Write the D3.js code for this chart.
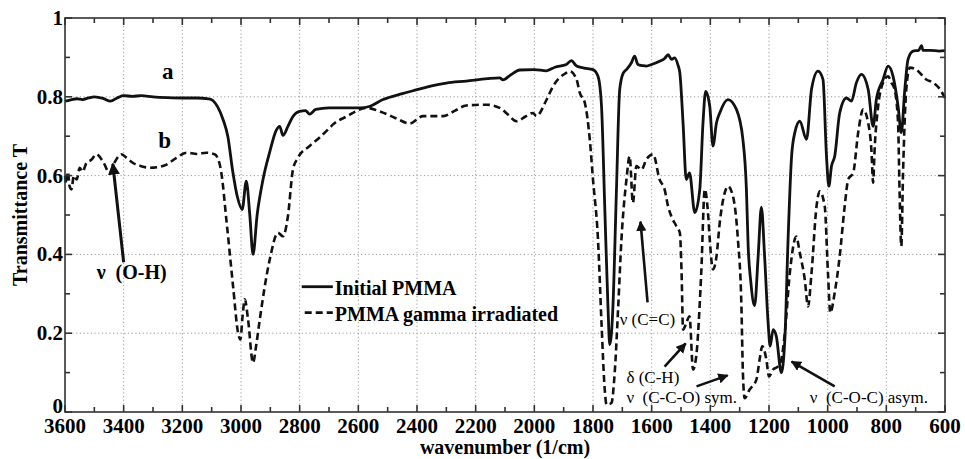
<!DOCTYPE html>
<html>
<head>
<meta charset="utf-8">
<script src="https://cdn.jsdelivr.net/npm/d3@7"></script>
<style>
  body { margin: 0; background: #fff; }
  svg { display: block; font-family: "Liberation Serif", "Times New Roman", serif; }
</style>
</head>
<body>
<svg id="chart" width="965" height="459"></svg>
<script>
// spectrum a : initial PMMA (wavenumber, transmittance)
const waveA = [3600,3580,3560,3540,3520,3500,3470,3445,3420,3400,3370,3340,3300,3250,3200,3150,3110,3095,3080,3060,3045,3028,3012,2996,2982,2970,2959,2945,2925,2902,2880,2868,2857,2840,2823,2800,2780,2766,2745,2700,2650,2595,2560,2516,2450,2400,2350,2300,2232,2160,2118,2107,2080,2050,2000,1959,1930,1891,1874,1856,1830,1800,1783,1771,1760,1749,1743,1737,1732,1720,1709,1697,1686,1670,1658,1647,1630,1618,1600,1573,1555,1544,1532,1522,1510,1504,1493,1482,1471,1453,1436,1425,1416,1402,1391,1379,1368,1340,1311,1289,1277,1271,1262,1249,1237,1226,1215,1203,1196,1186,1175,1158,1146,1135,1123,1112,1095,1072,1055,1033,1016,1004,996,987,976,959,936,919,902,885,862,845,834,811,794,777,760,749,737,726,709,690,680,675,650,620,600];
const transA = [0.789,0.792,0.795,0.793,0.797,0.800,0.796,0.789,0.798,0.803,0.801,0.803,0.800,0.798,0.797,0.797,0.795,0.790,0.775,0.740,0.700,0.610,0.545,0.514,0.586,0.500,0.400,0.500,0.590,0.660,0.715,0.725,0.702,0.725,0.750,0.763,0.765,0.756,0.768,0.772,0.772,0.772,0.776,0.793,0.808,0.818,0.828,0.835,0.840,0.846,0.848,0.843,0.856,0.868,0.869,0.866,0.875,0.882,0.892,0.878,0.873,0.869,0.852,0.776,0.522,0.268,0.171,0.200,0.268,0.565,0.818,0.860,0.869,0.885,0.903,0.882,0.879,0.878,0.882,0.890,0.898,0.907,0.895,0.899,0.880,0.861,0.734,0.590,0.607,0.506,0.565,0.734,0.814,0.776,0.675,0.734,0.759,0.793,0.768,0.692,0.565,0.420,0.330,0.270,0.395,0.520,0.395,0.226,0.167,0.209,0.192,0.100,0.184,0.438,0.649,0.709,0.738,0.692,0.819,0.865,0.844,0.649,0.573,0.624,0.649,0.759,0.797,0.789,0.836,0.857,0.819,0.725,0.793,0.844,0.878,0.852,0.776,0.709,0.819,0.895,0.916,0.918,0.930,0.918,0.918,0.916,0.917];

// spectrum b : PMMA gamma irradiated
const waveB = [3600,3595,3590,3585,3578,3570,3560,3550,3540,3527,3510,3493,3470,3448,3430,3408,3390,3368,3340,3311,3280,3254,3220,3186,3150,3118,3090,3073,3067,3050,3027,3010,3002,2995,2987,2976,2959,2948,2936,2902,2874,2857,2840,2823,2806,2766,2730,2698,2686,2640,2572,2527,2470,2425,2379,2311,2270,2232,2164,2118,2090,2061,2030,2005,1993,1960,1936,1891,1879,1856,1845,1828,1811,1800,1783,1771,1760,1754,1745,1737,1726,1714,1703,1686,1675,1664,1652,1635,1618,1595,1573,1556,1544,1533,1516,1504,1498,1493,1482,1471,1459,1448,1431,1419,1408,1402,1391,1379,1368,1351,1340,1323,1306,1294,1289,1283,1266,1243,1232,1223,1209,1200,1186,1169,1158,1146,1129,1107,1095,1078,1067,1055,1038,1027,1010,999,991,976,959,942,930,913,896,879,862,851,845,840,828,811,794,783,772,760,755,749,743,732,720,698,664,641,617,600];
const transB = [0.600,0.580,0.610,0.575,0.565,0.600,0.590,0.620,0.610,0.632,0.640,0.654,0.635,0.607,0.635,0.654,0.645,0.632,0.624,0.620,0.622,0.628,0.645,0.658,0.655,0.658,0.654,0.630,0.607,0.489,0.319,0.201,0.184,0.240,0.286,0.235,0.125,0.170,0.235,0.387,0.455,0.446,0.497,0.615,0.645,0.675,0.698,0.721,0.730,0.750,0.772,0.763,0.745,0.732,0.751,0.751,0.765,0.778,0.780,0.772,0.755,0.738,0.750,0.759,0.751,0.790,0.827,0.861,0.865,0.844,0.810,0.785,0.692,0.590,0.438,0.226,0.057,0.019,0.020,0.023,0.100,0.268,0.438,0.590,0.649,0.531,0.624,0.615,0.641,0.654,0.590,0.565,0.522,0.497,0.472,0.455,0.353,0.209,0.226,0.243,0.108,0.142,0.353,0.565,0.506,0.438,0.362,0.395,0.480,0.556,0.573,0.548,0.438,0.268,0.100,0.035,0.057,0.082,0.133,0.167,0.133,0.090,0.108,0.116,0.133,0.201,0.353,0.445,0.404,0.336,0.268,0.353,0.522,0.560,0.522,0.353,0.252,0.303,0.395,0.522,0.590,0.607,0.709,0.768,0.734,0.666,0.582,0.666,0.776,0.836,0.852,0.836,0.819,0.734,0.565,0.421,0.607,0.819,0.874,0.869,0.844,0.836,0.819,0.797];

const xTicks = [3600,3400,3200,3000,2800,2600,2400,2200,2000,1800,1600,1400,1200,1000,800,600];
const yTicks = [0,0.2,0.4,0.6,0.8,1];
const yTickLabels = ['0','0.2','0.4','0.6','0.8','1'];
const seriesNames = ['Initial PMMA', 'PMMA gamma irradiated'];

// band labels: [wavenumber, T] of the text, and arrow from -> to
const bands = [
  { text: 'ν  (O-H)', at: [3492, 0.354], from: [3400, 0.380], to: [3437, 0.630], bold: true },
  { text: 'ν (C=C)', at: [1709, 0.235], from: [1614, 0.278], to: [1638, 0.483] },
  { text: 'δ (C-H)', at: [1686, 0.090], from: [1556, 0.115], to: [1484, 0.174] },
  { text: 'ν  (C-C-O) sym.', at: [1686, 0.037], from: [1447, 0.065], to: [1341, 0.093] },
  { text: 'ν  (C-O-C) asym.', at: [1061, 0.037], from: [976, 0.065], to: [1123, 0.128] }
];

const margin = { top: 18, right: 20, bottom: 47, left: 65 };
const width = 965, height = 459;
const svg = d3.select('#chart');

const x = d3.scaleLinear().domain([3600, 600]).range([margin.left, width - margin.right]);
const y = d3.scaleLinear().domain([0, 1]).range([height - margin.bottom, margin.top]);

// dotted grid
const grid = svg.append('g').attr('stroke', '#9a9a9a').attr('stroke-width', 1).attr('stroke-dasharray', '1.2,2.5');
grid.selectAll('.gx').data(xTicks.slice(1, -1)).enter().append('line')
  .attr('x1', d => x(d)).attr('x2', d => x(d)).attr('y1', y(0)).attr('y2', y(1));
grid.selectAll('.gy').data(yTicks.slice(1, -1)).enter().append('line')
  .attr('x1', x(3600)).attr('x2', x(600)).attr('y1', d => y(d)).attr('y2', d => y(d));

// curves
const line = d3.line().x(d => x(d[0])).y(d => y(d[1])).curve(d3.curveMonotoneX);
svg.append('path').datum(d3.zip(waveA, transA)).attr('d', line)
  .attr('fill', 'none').attr('stroke', '#111').attr('stroke-width', 2.8).attr('stroke-linejoin', 'round');
svg.append('path').datum(d3.zip(waveB, transB)).attr('d', line)
  .attr('fill', 'none').attr('stroke', '#111').attr('stroke-width', 2.6).attr('stroke-dasharray', '7,4');

// axes with inward ticks on all four sides
const minorX = d3.range(3600, 599, -100);
const minorY = d3.range(0, 1.001, 0.1);
function axisBox(g) {
  g.append('rect').attr('x', x(3600)).attr('y', y(1)).attr('width', x(600) - x(3600)).attr('height', y(0) - y(1))
    .attr('fill', 'none').attr('stroke', '#333').attr('stroke-width', 1.6);
  minorX.forEach(v => {
    const len = v % 200 === 0 ? 7 : 5;
    g.append('line').attr('x1', x(v)).attr('x2', x(v)).attr('y1', y(0)).attr('y2', y(0) - len);
    g.append('line').attr('x1', x(v)).attr('x2', x(v)).attr('y1', y(1)).attr('y2', y(1) + len);
  });
  minorY.forEach(v => {
    const len = Math.round(v * 10) % 2 === 0 ? 7 : 5;
    g.append('line').attr('x1', x(3600)).attr('x2', x(3600) + len).attr('y1', y(v)).attr('y2', y(v));
    g.append('line').attr('x1', x(600)).attr('x2', x(600) - len).attr('y1', y(v)).attr('y2', y(v));
  });
}
svg.append('g').attr('stroke', '#333').attr('stroke-width', 1.6).call(axisBox);

// tick labels
svg.append('g').selectAll('text').data(xTicks).enter().append('text')
  .attr('x', d => x(d)).attr('y', y(0) + 21).attr('text-anchor', 'middle')
  .attr('font-size', 21).attr('font-weight', 'bold').text(d => d);
svg.append('g').selectAll('text').data(yTicks).enter().append('text')
  .attr('x', x(3600) - 2).attr('y', d => y(d) + (d === 0 ? 1 : 7)).attr('text-anchor', 'end')
  .attr('font-size', 21).attr('font-weight', 'bold').text((d, i) => yTickLabels[i]);

// axis titles
svg.append('text').attr('x', (x(3600) + x(600)) / 2).attr('y', 454)
  .attr('text-anchor', 'middle').attr('font-size', 20).attr('font-weight', 'bold')
  .text('wavenumber (1/cm)');
svg.append('text').attr('transform', `translate(27,${(y(0) + y(1)) / 2}) rotate(-90)`)
  .attr('text-anchor', 'middle').attr('font-size', 20).attr('font-weight', 'bold')
  .text('Transmittance T');

// curve letters
svg.append('text').attr('x', x(3250)).attr('y', y(0.864) + 7).attr('text-anchor', 'middle')
  .attr('font-size', 23).attr('font-weight', 'bold').text('a');
svg.append('text').attr('x', x(3260)).attr('y', y(0.687) + 7).attr('text-anchor', 'middle')
  .attr('font-size', 23).attr('font-weight', 'bold').text('b');

// legend
const lg = svg.append('g');
[0, 1].forEach(i => {
  const ly = y(0.318) + i * 26;
  lg.append('line').attr('x1', x(2793) + i * 3).attr('x2', x(2687)).attr('y1', ly).attr('y2', ly)
    .attr('stroke', '#111').attr('stroke-width', 2.8).attr('stroke-dasharray', i ? '7,4' : null);
  lg.append('text').attr('x', x(2687) + 2).attr('y', ly + 8).attr('font-size', 20).attr('font-weight', 'bold')
    .text(seriesNames[i]);
});

// arrows
svg.append('defs').append('marker').attr('id', 'head').attr('viewBox', '0 0 10 10')
  .attr('refX', 9).attr('refY', 5).attr('markerWidth', 4).attr('markerHeight', 4)
  .attr('markerUnits', 'strokeWidth').attr('orient', 'auto')
  .append('path').attr('d', 'M0,0 L10,5 L0,10 Z').attr('fill', '#111');

bands.forEach(b => {
  svg.append('line').attr('x1', x(b.from[0])).attr('y1', y(b.from[1]))
    .attr('x2', x(b.to[0])).attr('y2', y(b.to[1]))
    .attr('stroke', '#111').attr('stroke-width', b.bold ? 3 : 2.6).attr('marker-end', 'url(#head)');
  svg.append('text').attr('x', x(b.at[0])).attr('y', y(b.at[1]) + 6)
    .attr('font-size', b.bold ? 20 : 17).attr('font-weight', b.bold ? 'bold' : 'normal')
    .attr('xml:space', 'preserve').style('white-space', 'pre').text(b.text);
});
</script>
</body>
</html>
